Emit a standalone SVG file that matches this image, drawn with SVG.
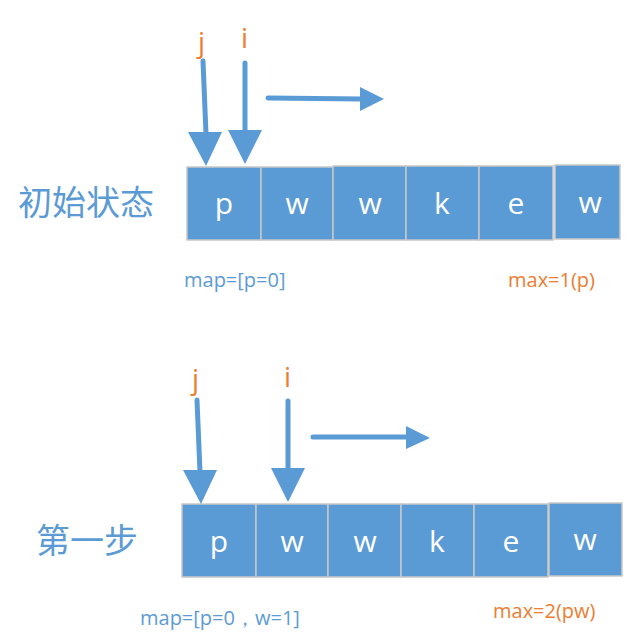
<svg xmlns="http://www.w3.org/2000/svg" width="636" height="640" viewBox="0 0 636 640">
<style>
.c{fill:#5B9BD5;stroke:#C8C8C8;stroke-width:1.5}
.l{fill:#fff;font-family:"Open Sans","Liberation Sans",sans-serif;font-size:30px;text-anchor:middle}
.o{fill:#ED7D31;font-family:"Open Sans","Liberation Sans",sans-serif}
.b{fill:#5B9BD5;font-family:"Open Sans","Liberation Sans",sans-serif}
.h{fill:#5B9BD5;font-family:"Noto Sans CJK SC",sans-serif;font-size:34px}
.s{stroke:#5B9BD5;stroke-width:5;stroke-linecap:round;fill:none}
.a{fill:#5B9BD5}
</style>
<rect width="636" height="640" fill="#fff"/>
<g id="row1">
<rect class="c" x="187" y="167" width="74" height="73"/>
<rect class="c" x="261" y="167" width="72" height="73"/>
<rect class="c" x="333" y="166" width="73" height="74"/>
<rect class="c" x="406" y="166" width="73" height="74"/>
<rect class="c" x="479" y="166" width="74" height="74"/>
<rect class="c" x="555" y="165" width="65" height="74"/>
<text class="l" x="224" y="214">p</text>
<text class="l" x="297" y="214">w</text>
<text class="l" x="370" y="214">w</text>
<text class="l" x="442" y="214">k</text>
<text class="l" x="516" y="214">e</text>
<text class="l" x="590" y="213">w</text>
</g>
<g id="row2">
<rect class="c" x="182" y="504" width="74" height="73"/>
<rect class="c" x="256" y="504" width="72" height="73"/>
<rect class="c" x="328" y="504" width="73" height="73"/>
<rect class="c" x="401" y="504" width="73" height="73"/>
<rect class="c" x="474" y="504" width="74" height="73"/>
<rect class="c" x="549" y="503" width="73" height="73"/>
<text class="l" x="219" y="552">p</text>
<text class="l" x="292" y="552">w</text>
<text class="l" x="365" y="552">w</text>
<text class="l" x="437" y="552">k</text>
<text class="l" x="511" y="552">e</text>
<text class="l" x="585" y="550">w</text>
</g>
<g id="labels">
<text class="h" x="18" y="215">初始状态</text>
<text class="h" x="36" y="553">第一步</text>
<text class="o" x="198" y="52" font-size="28">j</text>
<text class="o" x="241" y="48" font-size="28">i</text>
<text class="o" x="192" y="389" font-size="28">j</text>
<text class="o" x="284" y="387" font-size="28">i</text>
<text class="b" x="184" y="287" font-size="20">map=[p=0]</text>
<text class="o" x="508" y="287" font-size="20">max=1(p)</text>
<text class="b" x="140" y="625" font-size="20">map=[p=0，w=1]</text>
<text class="o" x="493" y="618" font-size="20">max=2(pw)</text>
</g>
<g id="connectors">
<path class="s" d="M203 61L206 134M245 63V132M268 98L362 99"/>
<path class="a" d="M188 132H222L206 166ZM228 130H262L245 164ZM360 87L384 99L360 111Z"/>
<path class="s" d="M197 400L200 472M288 401V470M313 437L408 437"/>
<path class="a" d="M183 470H217L201 504ZM271 468H305L288 502ZM406 426L430 438L406 449Z"/>
</g>
</svg>
